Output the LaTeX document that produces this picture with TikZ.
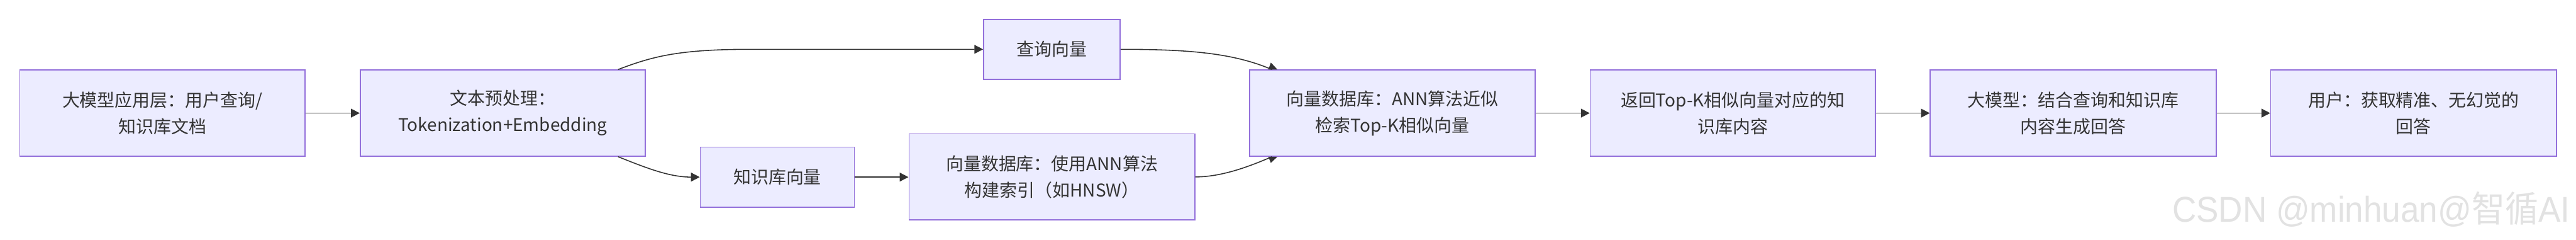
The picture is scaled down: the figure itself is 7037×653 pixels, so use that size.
\documentclass[tikz,border=0pt]{standalone}
\usepackage{fontspec}
\usepackage{graphicx}
\setmainfont{Noto Sans CJK SC}
\newfontfamily\wmfont{Liberation Sans}
\newfontfamily\wmcjk{Noto Sans CJK SC}
\usetikzlibrary{arrows.meta,calc}
\definecolor{boxfill}{HTML}{ECECFF}
\definecolor{boxline}{HTML}{9370DB}
\definecolor{edgecol}{HTML}{333333}
\definecolor{textcol}{HTML}{333333}
\definecolor{wmcol}{HTML}{E2E2E2}
\begin{document}
\begin{tikzpicture}[x=0.2pt,y=-0.2pt,
  box/.style={draw=boxline, fill=boxfill, line width=0.54pt, inner sep=0pt, align=center,
    text=textcol, font=\fontsize{9.6pt}{14.4pt}\selectfont, minimum height=47pt},
  edge/.style={draw=edgecol, line width=0.54pt, -{Triangle[length=4.8pt,width=4.8pt]}},
  plainedge/.style={draw=edgecol, line width=0.54pt},
  tipfill/.style={fill=edgecol}]
\useasboundingbox (0,0) rectangle (7037,653);
\fill[white] (0,0) rectangle (7037,653);

\node[box, minimum width=155.8pt] (A) at (443.5,308.5) {大模型应用层：用户查询/\\知识库文档};
\node[box, minimum width=155.8pt] (B) at (1373.5,308.5) {文本预处理：\\Tokenization+Embedding};
\node[box, minimum width=74.6pt, minimum height=32.6pt] (Q) at (2873.5,134.5) {查询向量};
\node[box, minimum width=84.2pt, minimum height=32.8pt] (K) at (2123.5,483) {知识库向量};
\node[box, minimum width=156.2pt] (I) at (2873.5,482.5) {向量数据库：使用ANN算法\\构建索引（如HNSW）};
\node[box, minimum width=156pt] (S) at (3804,308.5) {向量数据库：ANN算法近似\\检索Top-K相似向量};
\node[box, minimum width=155.8pt] (R) at (4733.5,308.5) {返回Top-K相似向量对应的知\\识库内容};
\node[box, minimum width=156.2pt] (L) at (5663.5,308.5) {大模型：结合查询和知识库\\内容生成回答};
\node[box, minimum width=156.2pt] (U) at (6593.5,308.5) {用户：获取精准、无幻觉的\\回答};

\coordinate (bN) at ($(B.north east)+(-76,0)$);
\coordinate (bS) at ($(B.south east)+(-76,0)$);
\coordinate (sN) at ($(S.north west)+(62,0)$);
\coordinate (sS) at ($(S.south west)+(62,0)$);

\draw[edge] (A) -- (B);
\draw[edge] (bN) .. controls (1780,155) and (1850,134.5) .. (2050,134.5) -- (Q.west);
\draw[edge] (bS) .. controls (1770,460) and (1830,483) .. (K.west);
\draw[edge] (K.east) -- (K.east -| I.west);
\draw[plainedge] (Q.east) .. controls (3250,134.5) and (3370,145) .. (sN);
\draw[plainedge] (I.east) .. controls (3330,482.5) and (3400,460) .. (sS);
\fill[tipfill] ($(sN)+(-10,0)$) -- ($(sN)+(15,0)$) -- ($(sN)+(-3,-19)$) -- cycle;
\fill[tipfill] ($(sS)+(-10,0)$) -- ($(sS)+(15,0)$) -- ($(sS)+(-3,17)$) -- cycle;
\draw[edge] (S) -- (R);
\draw[edge] (R) -- (L);
\draw[edge] (L) -- (U);

\node[anchor=base west, inner sep=0pt, text=wmcol, font=\wmfont\fontsize{19.6pt}{20pt}\selectfont] (wm) at (5933,605)
  {\scalebox{0.93}[1]{CSDN @minhuan@{\wmcjk 智循}AI}};
\end{tikzpicture}
\end{document}
